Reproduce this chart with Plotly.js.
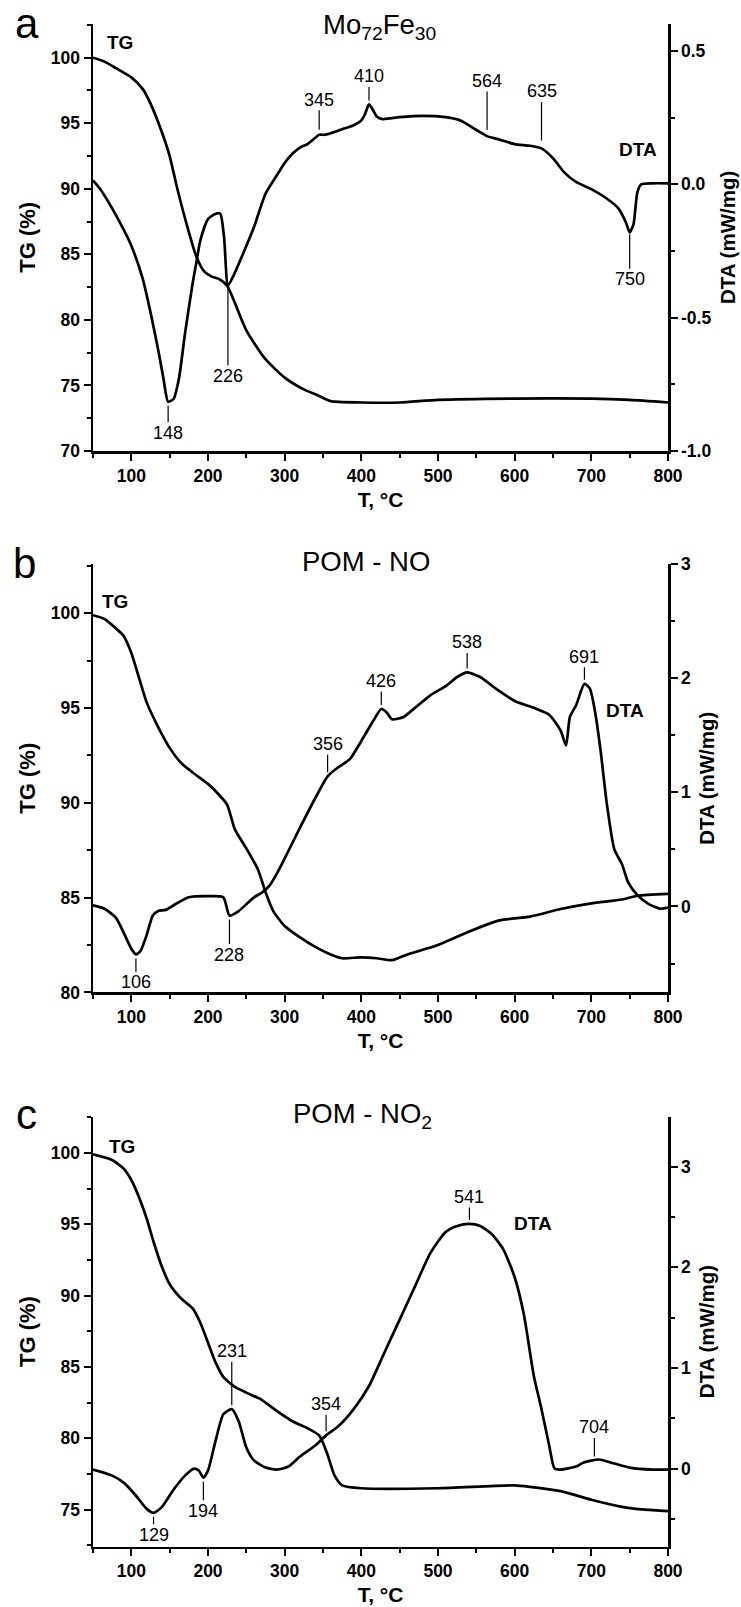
<!DOCTYPE html>
<html><head><meta charset="utf-8">
<script src="https://cdn.plot.ly/plotly-3.0.1.min.js"></script>
<style>html,body{margin:0;padding:0;background:#fff}#chart{width:741px;height:1607px}</style>
</head><body><div id="chart"></div>
<script>
// ================= DATA =================
const tempTicks = [100, 200, 300, 400, 500, 600, 700, 800];

// ---- panel a : Mo72Fe30 ----
const T_tg_a  = [50,65,80,100,115,125,140,150,160,175,185,195,205,215,225,235,250,275,300,325,345,360,400,450,500,600,700,750,800];
const TG_a    = [100.0,99.7,99.2,98.5,97.6,96.5,94.3,92.5,90.0,86.7,84.8,83.7,83.3,83.1,82.6,81.3,79.2,77.0,75.6,74.7,74.2,73.8,73.7,73.7,73.9,74.0,74.0,73.9,73.7];
const T_dta_a = [50,60,75,90,100,115,125,135,142,148,155,162,170,180,185,190,200,210,216,221,226,232,245,260,275,290,300,310,320,330,340,345,352,360,375,390,400,405,410,415,420,428,450,480,510,530,550,564,580,600,620,635,650,665,680,700,720,735,745,750,755,760,765,780,800];
const DTA_a   = [0.015,-0.02,-0.09,-0.17,-0.23,-0.355,-0.48,-0.62,-0.73,-0.815,-0.805,-0.73,-0.56,-0.37,-0.29,-0.21,-0.13,-0.11,-0.11,-0.2,-0.38,-0.35,-0.265,-0.16,-0.035,0.035,0.08,0.115,0.138,0.151,0.175,0.186,0.186,0.192,0.207,0.222,0.24,0.265,0.3,0.28,0.255,0.245,0.252,0.257,0.252,0.239,0.204,0.181,0.168,0.151,0.145,0.135,0.098,0.044,0.009,-0.018,-0.053,-0.089,-0.142,-0.18,-0.15,-0.03,0.0,0.004,0.004];
const peaks_a = [148, 226, 345, 410, 564, 635, 750];
const tgTicks_a  = [70, 75, 80, 85, 90, 95, 100];
const dtaTicks_a = [-1.0, -0.5, 0.0, 0.5];

// ---- panel b : POM - NO ----
const T_tg_b  = [50,65,80,90,100,110,120,135,150,165,180,200,215,225,235,250,265,275,285,300,320,340,360,375,400,420,440,460,500,540,580,620,660,700,740,760,800];
const TG_b    = [99.9,99.7,99.2,98.8,97.9,96.6,95.3,94.0,92.9,92.1,91.6,91.0,90.4,89.9,88.6,87.6,86.5,85.3,84.3,83.5,82.9,82.4,82.0,81.8,81.85,81.8,81.7,82.0,82.5,83.2,83.8,84.0,84.4,84.7,84.9,85.1,85.2];
const T_dta_b = [50,65,80,90,100,106,112,120,128,135,145,160,175,200,220,228,240,250,260,270,280,290,300,320,340,356,370,385,400,415,426,433,440,455,470,490,510,525,538,555,575,600,625,645,660,667,672,680,691,698,705,712,720,730,740,748,760,775,790,800];
const DTA_b   = [0.01,-0.02,-0.10,-0.23,-0.37,-0.42,-0.39,-0.25,-0.08,-0.04,-0.03,0.03,0.08,0.09,0.08,-0.08,-0.04,0.02,0.08,0.12,0.18,0.29,0.42,0.69,0.95,1.14,1.22,1.29,1.45,1.62,1.73,1.70,1.64,1.66,1.74,1.85,1.93,2.01,2.05,2.01,1.91,1.80,1.74,1.68,1.54,1.41,1.66,1.76,1.95,1.91,1.70,1.37,0.91,0.50,0.37,0.21,0.10,0.02,-0.02,-0.01];
const peaks_b = [106, 228, 356, 426, 538, 691];
const tgTicks_b  = [80, 85, 90, 95, 100];
const dtaTicks_b = [0, 1, 2, 3];

// ---- panel c : POM - NO2 ----
const T_tg_c  = [50,75,90,100,110,120,130,140,150,165,180,190,200,210,220,235,250,270,290,310,330,345,355,365,375,400,500,600,620,660,700,740,770,800];
const TG_c    = [99.9,99.5,98.9,98.1,96.9,95.4,93.6,92.0,90.8,89.8,89.1,88.1,86.7,85.3,84.3,83.6,83.2,82.7,81.9,81.2,80.7,80.2,79.0,77.4,76.7,76.5,76.5,76.7,76.6,76.3,75.7,75.2,75.0,74.9];
const T_dta_c = [50,75,90,105,120,129,140,155,170,182,188,194,200,210,220,231,240,250,260,275,290,305,320,340,354,370,390,410,430,450,470,490,510,525,541,555,570,585,600,612,625,635,645,652,660,680,690,710,730,750,780,800];
const DTA_c   = [-0.01,-0.07,-0.14,-0.26,-0.40,-0.44,-0.38,-0.21,-0.07,0.0,-0.02,-0.09,-0.02,0.28,0.54,0.59,0.47,0.21,0.08,0.01,-0.01,0.02,0.12,0.23,0.33,0.42,0.59,0.82,1.15,1.48,1.81,2.14,2.35,2.41,2.43,2.41,2.33,2.18,1.90,1.53,0.92,0.59,0.23,0.0,-0.01,0.02,0.06,0.09,0.05,0.01,-0.01,-0.01];
const peaks_c = [129, 194, 231, 354, 541, 704];
const tgTicks_c  = [75, 80, 85, 90, 95, 100];
const dtaTicks_c = [0, 1, 2, 3];

// ================= LAYOUT (pixels / styles) =================
const W = 741, H = 1607;
const PLOT_L = 93, PLOT_R = 668;
const FONT = 'Liberation Sans, Arial, sans-serif';
const px = x => x / W;
const py = y => 1 - y / H;

const panels = [
  { top: 23.6, bottom: 451, tgRange: [70, 102.6], dtaRange: [-1.0, 0.603], tgMinor: 2.5, dtaMinor: 0.25, dtaFmt: v => v.toFixed(1),
    T_tg: T_tg_a, TG: TG_a, T_dta: T_dta_a, DTA: DTA_a, peaks: peaks_a, tgTicks: tgTicks_a, dtaTicks: dtaTicks_a,
    peakDy: [31, 90, -35, -28, -55, -57, 47], peakStand: [4, 3, 5, 4, 6, 8, 2],
    title: 'Mo<sub>72</sub>Fe<sub>30</sub>', titleXY: [379, 27], letter: 'a', letterXY: [27, 24],
    tgLabel: [120, 43], dtaLabel: [638, 149] },
  { top: 564, bottom: 992.4, tgRange: [80, 102.6], dtaRange: [-0.753, 3.0], tgMinor: 2.5, dtaMinor: 0.5, dtaFmt: v => String(v),
    T_tg: T_tg_b, TG: TG_b, T_dta: T_dta_b, DTA: DTA_b, peaks: peaks_b, tgTicks: tgTicks_b, dtaTicks: dtaTicks_b,
    peakDy: [28, 39, -32, -28, -30, -27], peakStand: [4, 4, 4, 4, 4, 4],
    title: 'POM - NO', titleXY: [366, 561], letter: 'b', letterXY: [24, 563],
    tgLabel: [115, 601], dtaLabel: [625, 710] },
  { top: 1116.5, bottom: 1546.5, tgRange: [72.42, 102.55], dtaRange: [-0.774, 3.497], tgMinor: 2.5, dtaMinor: 0.5, dtaFmt: v => String(v),
    T_tg: T_tg_c, TG: TG_c, T_dta: T_dta_c, DTA: DTA_c, peaks: peaks_c, tgTicks: tgTicks_c, dtaTicks: dtaTicks_c,
    peakDy: [22, 33, -58, -31, -27, -33], peakStand: [4, 4, 4, 4, 4, 4],
    title: 'POM - NO<sub>2</sub>', titleXY: [362, 1115], letter: 'c', letterXY: [26, 1114],
    tgLabel: [122, 1146], dtaLabel: [533, 1223] }
];

function interp(t, xs, ys) {
  for (let i = 1; i < xs.length; i++) {
    if (t <= xs[i]) { const f = (t - xs[i-1]) / (xs[i] - xs[i-1]); return ys[i-1] + f * (ys[i] - ys[i-1]); }
  }
  return ys[ys.length - 1];
}

const traces = [];
const layout = {
  width: W, height: H, margin: {l: 0, r: 0, t: 0, b: 0},
  paper_bgcolor: '#fff', plot_bgcolor: '#fff', showlegend: false,
  font: {family: FONT, color: '#000'},
  annotations: []
};

const axisCommon = {
  showline: true, linecolor: '#000', linewidth: 2.5, showgrid: false, zeroline: false,
  ticks: 'outside', ticklen: 7, tickwidth: 2, tickcolor: '#000',
  tickfont: {family: FONT, size: 17.5, weight: 'bold', color: '#000'},
  fixedrange: true
};
const minorCommon = {ticks: 'outside', ticklen: 4, tickwidth: 2, tickcolor: '#000'};

panels.forEach((p, i) => {
  const n = i + 1;
  const xk = n === 1 ? 'x' : 'x' + n;
  const yL = 2 * i + 1, yR = 2 * i + 2;
  const yLk = yL === 1 ? 'y' : 'y' + yL;
  const yRk = 'y' + yR;
  const dom = [py(p.bottom), py(p.top)];

  layout[n === 1 ? 'xaxis' : 'xaxis' + n] = Object.assign({}, axisCommon, {
    domain: [px(PLOT_L), px(PLOT_R)], anchor: yLk, range: [50, 800],
    tickmode: 'array', tickvals: tempTicks, ticktext: tempTicks.map(String),
    minor: Object.assign({tickmode: 'linear', tick0: 0, dtick: 50}, minorCommon),
    title: {text: 'T, °C', font: {family: FONT, size: 21, weight: 'bold', color: '#000'}, standoff: 8}
  });
  layout[yL === 1 ? 'yaxis' : 'yaxis' + yL] = Object.assign({}, axisCommon, {
    domain: dom, anchor: xk, range: p.tgRange, side: 'left',
    tickmode: 'array', tickvals: p.tgTicks, ticktext: p.tgTicks.map(String),
    minor: Object.assign({tickmode: 'linear', tick0: 0, dtick: p.tgMinor}, minorCommon),
    title: {text: 'TG (%)', font: {family: FONT, size: 22, weight: 'bold', color: '#000'}, standoff: 9}
  });
  layout['yaxis' + yR] = Object.assign({}, axisCommon, {
    domain: dom, anchor: xk, overlaying: yLk, side: 'right', range: p.dtaRange,
    tickmode: 'array', tickvals: p.dtaTicks, ticktext: p.dtaTicks.map(p.dtaFmt),
    minor: Object.assign({tickmode: 'linear', tick0: 0, dtick: p.dtaMinor}, minorCommon),
    title: {text: 'DTA (mW/mg)', font: {family: FONT, size: 20.5, weight: 'bold', color: '#000'}, standoff: 10}
  });

  traces.push({type: 'scatter', mode: 'lines', name: 'TG', x: p.T_tg, y: p.TG, xaxis: xk, yaxis: yLk,
    line: {color: '#000', width: 2.7, shape: 'spline', smoothing: 0.6}, hoverinfo: 'skip'});
  traces.push({type: 'scatter', mode: 'lines', name: 'DTA', x: p.T_dta, y: p.DTA, xaxis: xk, yaxis: yRk,
    line: {color: '#000', width: 2.7, shape: 'spline', smoothing: 0.6}, hoverinfo: 'skip'});

  p.peaks.forEach((t, k) => {
    layout.annotations.push({
      x: t, y: interp(t, p.T_dta, p.DTA), xref: xk, yref: yRk, text: String(t),
      showarrow: true, arrowhead: 0, arrowwidth: 1.2, arrowcolor: '#000', ax: 0, ay: p.peakDy[k],
      standoff: p.peakStand[k], borderpad: 0,
      font: {family: FONT, size: 18, color: '#000'}
    });
  });

  layout.annotations.push({xref: 'paper', yref: 'paper', x: px(p.titleXY[0]), y: py(p.titleXY[1]),
    text: p.title, showarrow: false, xanchor: 'center', yanchor: 'middle', font: {family: FONT, size: 27.5, color: '#000'}});
  layout.annotations.push({xref: 'paper', yref: 'paper', x: px(p.letterXY[0]), y: py(p.letterXY[1]),
    text: p.letter, showarrow: false, xanchor: 'center', yanchor: 'middle', font: {family: FONT, size: 42, color: '#000'}});
  layout.annotations.push({xref: 'paper', yref: 'paper', x: px(p.tgLabel[0]), y: py(p.tgLabel[1]),
    text: 'TG', showarrow: false, xanchor: 'center', yanchor: 'middle', font: {family: FONT, size: 19, weight: 'bold', color: '#000'}});
  layout.annotations.push({xref: 'paper', yref: 'paper', x: px(p.dtaLabel[0]), y: py(p.dtaLabel[1]),
    text: 'DTA', showarrow: false, xanchor: 'center', yanchor: 'middle', font: {family: FONT, size: 19, weight: 'bold', color: '#000'}});
});

Plotly.newPlot('chart', traces, layout, {staticPlot: true, displayModeBar: false});
</script>
</body></html>
